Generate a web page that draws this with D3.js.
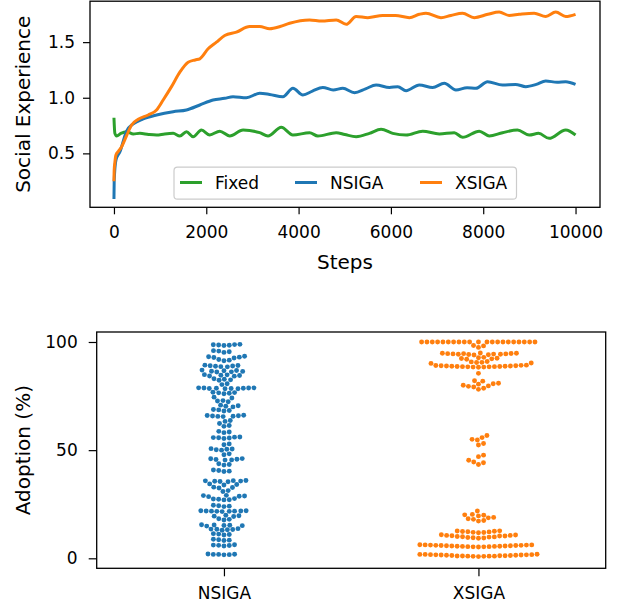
<!DOCTYPE html>
<html>
<head>
<meta charset="utf-8">
<script src="https://cdn.jsdelivr.net/npm/d3@7"></script>
<style>
  html, body { margin: 0; padding: 0; background: #fff; }
  svg text { font-family: "DejaVu Sans", sans-serif; fill: #000; }
</style>
</head>
<body>
<svg id="chart" width="625" height="609"></svg>
<script>
// ---------------- Top panel data ----------------
const fixedSteps = [0, 20, 58, 150, 274, 420, 562, 750, 923, 1100, 1283, 1427, 1571, 1715, 1896, 2076, 2292, 2508, 2797, 3157, 3337, 3625, 3877, 4238, 4418, 4815, 5000, 5247, 5535, 5787, 6040, 6328, 6688, 7049, 7373, 7553, 7914, 8130, 8418, 8742, 8995, 9200, 9427, 9788, 10000];
const fixedVals  = [0.82, 0.68, 0.656, 0.68, 0.695, 0.675, 0.68, 0.67, 0.665, 0.675, 0.68, 0.656, 0.695, 0.65, 0.71, 0.665, 0.70, 0.656, 0.71, 0.686, 0.656, 0.734, 0.665, 0.686, 0.656, 0.686, 0.67, 0.65, 0.68, 0.716, 0.68, 0.665, 0.70, 0.674, 0.686, 0.644, 0.70, 0.656, 0.686, 0.71, 0.665, 0.68, 0.635, 0.71, 0.665];

const nsigaSteps = [0, 5, 43, 130, 274, 418, 635, 923, 1283, 1571, 1860, 2147, 2400, 2580, 2869, 3157, 3373, 3660, 3877, 4093, 4300, 4525, 4750, 4958, 5211, 5450, 5680, 5968, 6150, 6328, 6616, 6904, 7157, 7409, 7650, 7842, 8094, 8418, 8700, 8923, 9150, 9355, 9600, 9788, 10000];
const nsigaVals  = [0.09, 0.25, 0.44, 0.515, 0.70, 0.765, 0.81, 0.845, 0.875, 0.89, 0.935, 0.98, 0.995, 1.01, 1.0, 1.04, 1.03, 1.01, 1.085, 1.025, 1.06, 1.093, 1.07, 1.085, 1.045, 1.08, 1.115, 1.093, 1.10, 1.063, 1.115, 1.093, 1.13, 1.07, 1.09, 1.085, 1.144, 1.115, 1.12, 1.10, 1.12, 1.15, 1.14, 1.144, 1.12];

const xsigaSteps = [0, 5, 20, 43, 100, 166, 274, 382, 526, 742, 923, 1066, 1247, 1427, 1607, 1760, 1860, 2040, 2220, 2400, 2653, 2940, 3157, 3373, 3600, 3805, 4238, 4500, 4815, 5031, 5247, 5500, 5823, 6100, 6400, 6616, 6760, 7085, 7300, 7553, 7805, 8100, 8346, 8560, 8778, 9103, 9355, 9571, 9788, 10000];
const xsigaVals  = [0.25, 0.35, 0.42, 0.485, 0.52, 0.56, 0.66, 0.755, 0.806, 0.845, 0.89, 0.98, 1.10, 1.23, 1.32, 1.34, 1.35, 1.44, 1.50, 1.56, 1.59, 1.64, 1.64, 1.62, 1.64, 1.67, 1.70, 1.69, 1.70, 1.66, 1.73, 1.72, 1.74, 1.74, 1.72, 1.75, 1.76, 1.72, 1.74, 1.76, 1.72, 1.75, 1.77, 1.74, 1.75, 1.76, 1.73, 1.77, 1.73, 1.75];

const seriesNames = ["Fixed", "NSIGA", "XSIGA"];
const seriesColors = ["#2ca02c", "#1f77b4", "#ff7f0e"];
const xTicksTop = [0, 2000, 4000, 6000, 8000, 10000];
const yTicksTop = [0.5, 1.0, 1.5];

// ---------------- Bottom panel data ----------------
const categories = ["NSIGA", "XSIGA"];
const nsigaAdoption = [
  98.9, 98.8, 98.7, 98.6, 98.5, 98.4,
  96.0, 95.8, 95.5, 95.2,
  93.4, 93.2, 93.0, 92.8, 92.6,
  91.9, 91.6, 91.3,
  89.3, 89.1, 89.0, 88.9, 88.8, 88.6, 88.5,
  87.0, 86.8, 86.7, 86.5, 86.4, 86.2, 86.1,
  84.9, 84.8, 84.6, 84.5, 84.3, 84.2,
  83.0, 82.8, 82.5, 82.3,
  80.7, 80.3,
  78.8, 78.8, 78.7, 78.7, 78.6, 78.6, 78.5, 78.5, 78.4, 78.4,
  76.8, 76.6, 76.5, 76.3, 76.1,
  74.5, 74.1,
  72.9, 72.7, 72.4,
  70.8, 70.5, 70.3, 70.0,
  68.8, 68.6, 68.3, 68.1,
  66.1, 66.0, 65.9, 65.8, 65.7, 65.6, 65.5,
  63.7, 63.3, 62.3, 61.4, 61.0,
  58.7, 58.4, 58.1,
  56.1, 56.0, 55.8, 55.7, 55.6, 55.4,
  52.9, 52.5,
  50.7, 50.5, 50.4, 50.2, 50.0,
  48.3, 47.9,
  46.1, 46.0, 45.8, 45.7, 45.5, 45.4,
  43.7, 43.4, 43.1,
  40.8, 40.6, 40.3, 40.1,
  36.0, 35.9, 35.8, 35.7, 35.6, 35.5, 35.4,
  34.4, 34.1, 33.9, 32.9, 32.7, 32.5, 31.3, 30.9,
  29.1, 29.0, 28.8, 28.7, 28.5, 27.6, 27.4, 27.3, 27.1, 27.0,
  24.5, 24.3, 24.1, 23.9,
  22.0, 22.0, 21.9, 21.9, 21.8, 21.8, 21.7, 21.7, 21.6,
  19.9, 19.7, 19.5, 19.3, 18.3, 18.0, 17.7,
  15.5, 15.4, 15.3, 15.2, 15.1, 14.9,
  13.7, 13.5, 13.4, 13.3, 13.2, 13.0,
  11.4, 11.2, 11.0, 10.8,
  8.8, 8.6, 8.4, 8.2,
  6.3, 6.1, 6.0, 5.9, 5.7,
  2.0, 1.9, 1.8, 1.8, 1.7, 1.6
];
const xsigaAdoption = [
  100, 100, 100, 100, 100, 100, 100, 100, 100, 100, 100, 100, 100, 100, 100, 100, 100, 100, 100, 100, 100,
  98.4, 98.2, 97.5,
  94.9, 94.8, 94.8, 94.7, 94.6, 94.6, 94.5, 94.5, 94.4, 94.3, 94.3, 94.2, 94.1, 94.0,
  92.9, 92.7, 92.5, 92.4, 92.2, 92.0,
  91.0, 90.8, 90.6, 90.5, 90.3, 90.1,
  89.3, 89.2, 89.1, 89.0, 89.0, 88.9, 88.9, 88.8, 88.8, 88.7, 88.7, 88.6, 88.6, 88.5, 88.5, 88.4, 88.4, 88.3,
  85.5,
  82.1, 81.9, 80.9, 80.7, 80.5, 80.0, 79.7, 79.5, 79.2, 78.6, 78.1,
  56.8, 55.8, 55.0, 54.7, 53.1, 52.4,
  47.7, 47.0, 45.3, 44.5, 44.2, 43.4,
  21.9, 20.3, 20.1, 19.9, 19.6, 18.9, 18.7, 18.3, 18.0, 17.5, 17.2,
  12.7, 12.6, 12.5, 12.4, 12.3, 12.2, 12.0, 11.9, 11.8,
  10.9, 10.8, 10.6, 10.6, 10.4, 10.3, 10.3, 10.1, 10.0, 9.9, 9.8, 9.6, 9.5, 9.4, 9.3,
  6.3, 6.2, 6.2, 6.1, 6.1, 6.0, 6.0, 5.9, 5.9, 5.8, 5.8, 5.7, 5.7, 5.6, 5.6, 5.5, 5.5, 5.4, 5.4, 5.3, 5.3, 5.2,
  1.9, 1.8, 1.8, 1.7, 1.7, 1.6, 1.6, 1.5, 1.5, 1.4, 1.4, 1.3, 1.3, 1.2, 1.2, 1.1, 1.1, 1.0, 1.0, 1.0, 0.9, 0.9, 0.8
];
const yTicksBottom = [0, 50, 100];

// ---------------- Drawing ----------------
const svg = d3.select("#chart");
svg.append("rect").attr("width", 625).attr("height", 609).attr("fill", "#fff");

const TICK_FONT = 17, LABEL_FONT = 20;

// ===== Top panel =====
const topBox = { left: 90, right: 600, top: 1.2, bottom: 207.3 };
const xTop = d3.scaleLinear().domain([-519, 10530]).range([topBox.left, topBox.right]);
const yTop = d3.scaleLinear().domain([0.0152, 1.868]).range([topBox.bottom, topBox.top]);

const gTop = svg.append("g");
const clipTop = svg.append("clipPath").attr("id", "clipTop");
clipTop.append("rect").attr("x", topBox.left).attr("y", topBox.top)
  .attr("width", topBox.right - topBox.left).attr("height", topBox.bottom - topBox.top);

const line = d3.line().x(d => xTop(d[0])).y(d => yTop(d[1])).curve(d3.curveMonotoneX);
const topSeries = [
  { steps: fixedSteps, vals: fixedVals },
  { steps: nsigaSteps, vals: nsigaVals },
  { steps: xsigaSteps, vals: xsigaVals }
];
topSeries.forEach((s, i) => {
  gTop.append("path")
    .attr("clip-path", "url(#clipTop)")
    .attr("d", line(s.steps.map((st, k) => [st, s.vals[k]])))
    .attr("fill", "none")
    .attr("stroke", seriesColors[i])
    .attr("stroke-width", 3)
    .attr("stroke-linejoin", "round")
    .attr("stroke-linecap", "butt");
});

// axes
const axBottomTop = d3.axisBottom(xTop).tickValues(xTicksTop).tickFormat(d3.format("d"))
  .tickSize(7).tickPadding(12).tickSizeOuter(0);
const gxTop = gTop.append("g").attr("transform", `translate(0,${topBox.bottom})`).call(axBottomTop);
const axLeftTop = d3.axisLeft(yTop).tickValues(yTicksTop).tickFormat(d3.format(".1f"))
  .tickSize(7).tickPadding(8).tickSizeOuter(0);
const gyTop = gTop.append("g").attr("transform", `translate(${topBox.left},0)`).call(axLeftTop);
[gxTop, gyTop].forEach(g => {
  g.select(".domain").remove();
  g.selectAll(".tick line").attr("stroke", "#000").attr("stroke-width", 1.2);
  g.selectAll(".tick text").attr("font-size", TICK_FONT).attr("fill", "#000")
    .style("font-family", "'DejaVu Sans', sans-serif");
});
gTop.append("rect").attr("x", topBox.left).attr("y", topBox.top)
  .attr("width", topBox.right - topBox.left).attr("height", topBox.bottom - topBox.top)
  .attr("fill", "none").attr("stroke", "#000").attr("stroke-width", 1.3);

gTop.append("text").attr("x", (topBox.left + topBox.right) / 2).attr("y", 269)
  .attr("text-anchor", "middle").attr("font-size", LABEL_FONT).text("Steps");
gTop.append("text").attr("transform", `translate(29.5,${(topBox.top + topBox.bottom) / 2}) rotate(-90)`)
  .attr("text-anchor", "middle").attr("font-size", LABEL_FONT).text("Social Experience");

// legend
const leg = gTop.append("g");
leg.append("rect").attr("x", 174).attr("y", 167.2).attr("width", 342.5).attr("height", 32)
  .attr("rx", 3.5).attr("fill", "#fff").attr("fill-opacity", 0.8)
  .attr("stroke", "#cccccc").attr("stroke-width", 1.2);
const legX = [180, 295, 420];
seriesNames.forEach((name, i) => {
  leg.append("line").attr("x1", legX[i]).attr("x2", legX[i] + 22)
    .attr("y1", 182.5).attr("y2", 182.5)
    .attr("stroke", seriesColors[i]).attr("stroke-width", 3);
  leg.append("text").attr("x", legX[i] + 35).attr("y", 188.5)
    .attr("font-size", TICK_FONT).text(name);
});

// ===== Bottom panel =====
const bot = { left: 96.7, right: 605.7, top: 332, bottom: 568.3 };
const xBot = d3.scalePoint().domain(categories).range([bot.left, bot.right]).padding(0.5);
const yBot = d3.scaleLinear().domain([-4.62, 104.62]).range([bot.bottom, bot.top]);

const gBot = svg.append("g");

// seaborn-style beeswarm placement (in pixel space)
function beeswarm(values, cx, yScale, r) {
  const pts = values.map(v => ({ v, x: cx, y: -yScale(v), r }))
    .sort((a, b) => a.y - b.y);
  const swarm = [pts[0]];
  for (let i = 1; i < pts.length; i++) {
    const p = pts[i];
    const neighbors = [];
    for (let j = swarm.length - 1; j >= 0; j--) {
      const q = swarm[j];
      if (p.y - q.y < p.r + q.r) neighbors.push(q); else break;
    }
    if (neighbors.length) {
      const cands = [p.x];
      let leftFirst = true;
      for (const q of neighbors) {
        const dy = p.y - q.y;
        const dx = Math.sqrt(Math.max((p.r + q.r) ** 2 - dy * dy, 0)) * 1.05;
        const cl = q.x + dx, cr = q.x - dx;
        if (leftFirst) cands.push(cl, cr); else cands.push(cr, cl);
        leftFirst = !leftFirst;
      }
      const order = cands.map((c, k) => ({ c, k, o: Math.abs(c - cx) }))
        .sort((a, b) => (a.o - b.o) || (a.k - b.k));
      for (const { c } of order) {
        let ok = true;
        for (const q of neighbors) {
          const ddx = q.x - c, ddy = q.y - p.y;
          if (ddx * ddx + ddy * ddy < (q.r + p.r) ** 2 - 1e-9) { ok = false; break; }
        }
        if (ok) { p.x = c; break; }
      }
    }
    swarm.push(p);
  }
  return swarm.map(p => ({ v: p.v, x: p.x, y: -p.y }));
}

const R = 2.54;
[[nsigaAdoption, "#1f77b4"], [xsigaAdoption, "#ff7f0e"]].forEach(([vals, col], i) => {
  const cx = xBot(categories[i]);
  const placed = beeswarm(vals, cx, yBot, R);
  gBot.append("g").selectAll("circle").data(placed).join("circle")
    .attr("cx", d => d.x).attr("cy", d => d.y).attr("r", 2.45).attr("fill", col);
});

const axBB = d3.axisBottom(xBot).tickSize(8).tickPadding(11).tickSizeOuter(0);
const gxBot = gBot.append("g").attr("transform", `translate(0,${bot.bottom})`).call(axBB);
const axLB = d3.axisLeft(yBot).tickValues(yTicksBottom).tickFormat(d3.format("d"))
  .tickSize(8).tickPadding(11).tickSizeOuter(0);
const gyBot = gBot.append("g").attr("transform", `translate(${bot.left},0)`).call(axLB);
[gxBot, gyBot].forEach(g => {
  g.select(".domain").remove();
  g.selectAll(".tick line").attr("stroke", "#000").attr("stroke-width", 1.2);
  g.selectAll(".tick text").attr("font-size", TICK_FONT).attr("fill", "#000")
    .style("font-family", "'DejaVu Sans', sans-serif");
});
gBot.append("rect").attr("x", bot.left).attr("y", bot.top)
  .attr("width", bot.right - bot.left).attr("height", bot.bottom - bot.top)
  .attr("fill", "none").attr("stroke", "#000").attr("stroke-width", 1.3);
gBot.append("text").attr("transform", `translate(29.5,${(bot.top + bot.bottom) / 2}) rotate(-90)`)
  .attr("text-anchor", "middle").attr("font-size", LABEL_FONT).text("Adoption (%)");
</script>
</body>
</html>
